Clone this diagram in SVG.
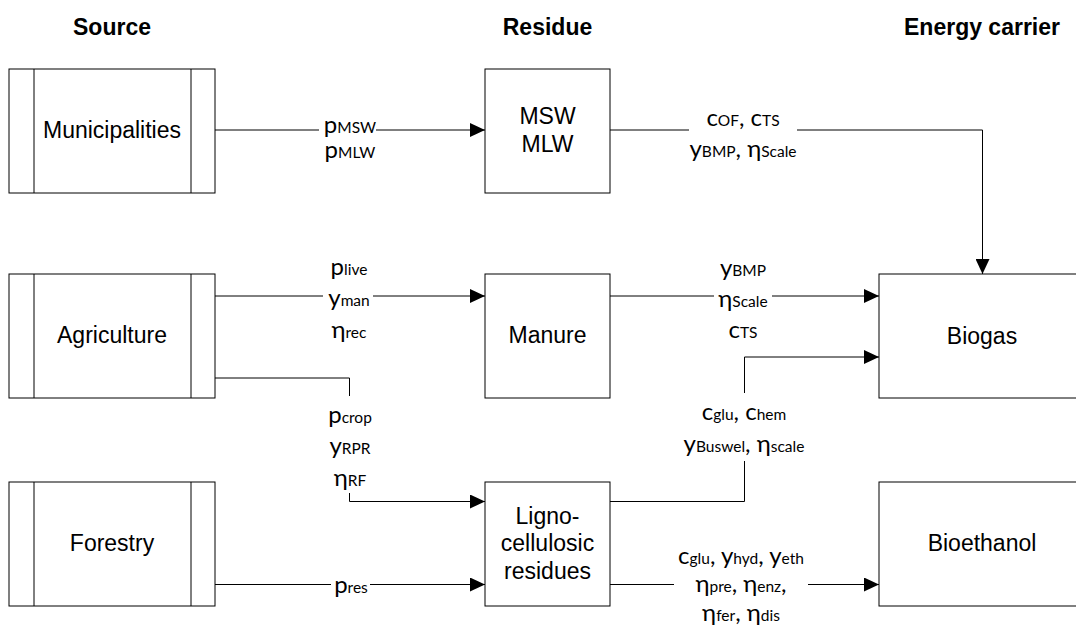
<svg xmlns="http://www.w3.org/2000/svg" width="1076" height="629" viewBox="0 0 1076 629">
<defs>
<marker id="arr" markerUnits="userSpaceOnUse" markerWidth="15" markerHeight="14" refX="15" refY="7" orient="auto"><path d="M0,0 L15,7 L0,14 Z" fill="#000"/></marker>
<style>
.box{fill:#fff;stroke:#000;stroke-width:1}
.hdr{font-family:"Liberation Sans",Arial,sans-serif;font-weight:bold;font-size:23px;text-anchor:middle;fill:#000}
.nt{font-family:"Liberation Sans",Arial,sans-serif;font-size:23px;text-anchor:middle;fill:#000}
.lbl{font-family:Lato,"Open Sans",sans-serif;font-size:24px;text-anchor:middle;fill:#000}
.sub{font-size:15.5px}
.cn{fill:none;stroke:#000;stroke-width:1}
.mask{fill:#fff}
</style>
</defs>
<rect x="0" y="0" width="1076" height="629" fill="#fff"/>
<g id="headers">
<text class="hdr" x="112" y="35">Source</text>
<text class="hdr" x="547.5" y="35">Residue</text>
<text class="hdr" x="982" y="35">Energy carrier</text>
</g>
<g id="municipalities">
<rect class="box" x="9" y="69" width="206" height="124"/>
<line class="box" x1="34" y1="69" x2="34" y2="193"/>
<line class="box" x1="191" y1="69" x2="191" y2="193"/>
<text class="nt" x="112" y="138">Municipalities</text>
</g>
<g id="agriculture">
<rect class="box" x="9" y="274" width="206" height="124"/>
<line class="box" x1="34" y1="274" x2="34" y2="398"/>
<line class="box" x1="191" y1="274" x2="191" y2="398"/>
<text class="nt" x="112" y="343">Agriculture</text>
</g>
<g id="forestry">
<rect class="box" x="9" y="482" width="206" height="124"/>
<line class="box" x1="34" y1="482" x2="34" y2="606"/>
<line class="box" x1="191" y1="482" x2="191" y2="606"/>
<text class="nt" x="112" y="551">Forestry</text>
</g>
<g id="msw">
<rect class="box" x="485" y="69" width="125" height="124"/>
<text class="nt" x="547.5" y="124">MSW</text>
<text class="nt" x="547.5" y="151.5">MLW</text>
</g>
<g id="manure">
<rect class="box" x="485" y="274" width="125" height="124"/>
<text class="nt" x="547.5" y="343">Manure</text>
</g>
<g id="ligno">
<rect class="box" x="485" y="482" width="125" height="124"/>
<text class="nt" x="547.5" y="523.5">Ligno-</text>
<text class="nt" x="547.5" y="551">cellulosic</text>
<text class="nt" x="547.5" y="578.5">residues</text>
</g>
<g id="biogas">
<rect class="box" x="879" y="274" width="206" height="124"/>
<text class="nt" x="982" y="344">Biogas</text>
</g>
<g id="bioethanol">
<rect class="box" x="879" y="482" width="206" height="124"/>
<text class="nt" x="982" y="551">Bioethanol</text>
</g>
<g id="connectors">
<path class="cn" d="M215,130 H485" marker-end="url(#arr)"/>
<path class="cn" d="M610,130 H982.5 V274" marker-end="url(#arr)"/>
<path class="cn" d="M215,296 H485" marker-end="url(#arr)"/>
<path class="cn" d="M610,296 H879" marker-end="url(#arr)"/>
<path class="cn" d="M215,378 H349.5 V501.5 H485" marker-end="url(#arr)"/>
<path class="cn" d="M215,584.5 H485" marker-end="url(#arr)"/>
<path class="cn" d="M610,501.5 H744.5 V357 H879" marker-end="url(#arr)"/>
<path class="cn" d="M610,584.5 H879" marker-end="url(#arr)"/>
</g>
<g id="labels">
<rect class="mask" x="319" y="116" width="57" height="48"/>
<text class="lbl" x="350" y="133">p<tspan class="sub">MSW</tspan></text>
<text class="lbl" x="350" y="158">p<tspan class="sub">MLW</tspan></text>

<rect class="mask" x="689" y="108" width="108" height="55"/>
<text class="lbl" x="743" y="126">c<tspan class="sub">OF</tspan>, c<tspan class="sub">TS</tspan></text>
<text class="lbl" x="743" y="157">y<tspan class="sub">BMP</tspan>, η<tspan class="sub">Scale</tspan></text>

<rect class="mask" x="323" y="282" width="50" height="28"/>
<text class="lbl" x="349" y="275">p<tspan class="sub">live</tspan></text>
<text class="lbl" x="349" y="306">y<tspan class="sub">man</tspan></text>
<text class="lbl" x="349" y="338">η<tspan class="sub">rec</tspan></text>

<rect class="mask" x="714" y="282" width="58" height="28"/>
<text class="lbl" x="743" y="276">y<tspan class="sub">BMP</tspan></text>
<text class="lbl" x="743" y="307">η<tspan class="sub">Scale</tspan></text>
<text class="lbl" x="743" y="338">c<tspan class="sub">TS</tspan></text>

<rect class="mask" x="330" y="396" width="40" height="97"/>
<text class="lbl" x="350" y="423">p<tspan class="sub">crop</tspan></text>
<text class="lbl" x="350" y="454">y<tspan class="sub">RPR</tspan></text>
<text class="lbl" x="350" y="486">η<tspan class="sub">RF</tspan></text>

<rect class="mask" x="331" y="575" width="39" height="20"/>
<text class="lbl" x="351" y="593">p<tspan class="sub">res</tspan></text>

<rect class="mask" x="730" y="393" width="30" height="68"/>
<text class="lbl" x="744" y="420">c<tspan class="sub">glu</tspan>, c<tspan class="sub">hem</tspan></text>
<text class="lbl" x="744" y="452">y<tspan class="sub">Buswel</tspan>, η<tspan class="sub">scale</tspan></text>

<rect class="mask" x="674" y="575" width="134" height="20"/>
<text class="lbl" x="741" y="564">c<tspan class="sub">glu</tspan>, y<tspan class="sub">hyd</tspan>, y<tspan class="sub">eth</tspan></text>
<text class="lbl" x="741" y="592">η<tspan class="sub">pre</tspan>, η<tspan class="sub">enz</tspan>,</text>
<text class="lbl" x="741" y="621">η<tspan class="sub">fer</tspan>, η<tspan class="sub">dis</tspan></text>
</g>
</svg>
